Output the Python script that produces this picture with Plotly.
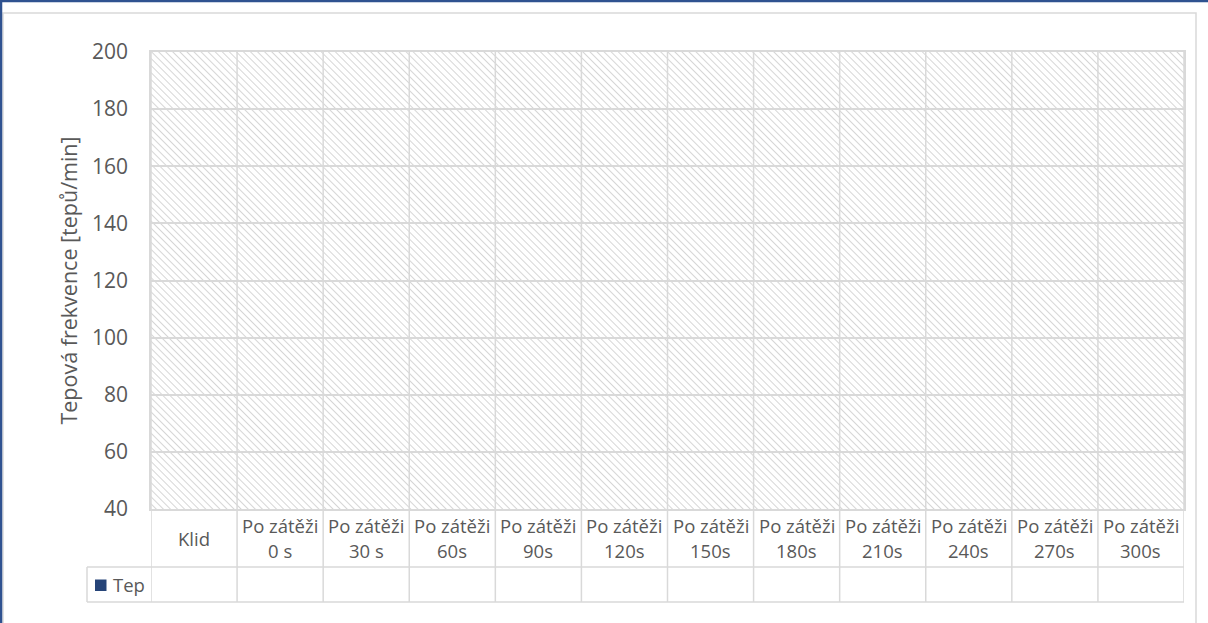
import base64
import plotly.graph_objects as go

# ---- data -------------------------------------------------------------
categories = [
    "Klid",
    "Po zátěži<br>0 s",
    "Po zátěži<br>30 s",
    "Po zátěži<br>60s",
    "Po zátěži<br>90s",
    "Po zátěži<br>120s",
    "Po zátěži<br>150s",
    "Po zátěži<br>180s",
    "Po zátěži<br>210s",
    "Po zátěži<br>240s",
    "Po zátěži<br>270s",
    "Po zátěži<br>300s",
]
series_name = "Tep"
tep_values = [None] * len(categories)  # no measurements entered yet
y_ticks = [40, 60, 80, 100, 120, 140, 160, 180, 200]
y_title = "Tepová frekvence [tepů/min]"

# ---- styling ----------------------------------------------------------
W, H = 1208, 623
M_L, M_R, M_T, M_B = 151, 24, 52, 114
PW, PH = W - M_L - M_R, H - M_T - M_B
GRID = "#d9d9d9"
TEXT = "#595959"
SERIES_COLOR = "#264478"
FRAME_BLUE = "#2f5290"
FONT = "Open Sans"


def px_x(p):
    return (p - M_L) / PW


def px_y(p):
    return (H - M_B - p) / PH


# hatched plot-area fill (downward diagonal)
svg = (
    f'<svg xmlns="http://www.w3.org/2000/svg" width="{PW}" height="{PH}">'
    '<defs><pattern id="h" width="5" height="5" patternUnits="userSpaceOnUse" '
    'patternTransform="rotate(-45)">'
    '<line x1="0" y1="0" x2="0" y2="5" stroke="#c4c4c4" stroke-width="1.4"/>'
    '</pattern></defs>'
    f'<rect width="{PW}" height="{PH}" fill="#ffffff"/>'
    f'<rect width="{PW}" height="{PH}" fill="url(#h)"/></svg>'
)
hatch_src = "data:image/svg+xml;base64," + base64.b64encode(svg.encode()).decode()

fig = go.Figure()
fig.add_trace(
    go.Bar(
        x=list(range(len(categories))),
        y=tep_values,
        name=series_name,
        marker_color=SERIES_COLOR,
        showlegend=False,
    )
)

n = len(categories)
row1_bottom = 567
row2_bottom = 602
legend_left = 87

shapes = []
# outer chart frame
shapes.append(dict(type="rect", xref="paper", yref="paper",
                   x0=px_x(3), x1=px_x(1196), y0=px_y(640), y1=px_y(13),
                   line=dict(color=GRID, width=1.5), layer="below"))
# blue selection border (top and left)
shapes.append(dict(type="line", xref="paper", yref="paper",
                   x0=px_x(0), x1=px_x(W), y0=px_y(1), y1=px_y(1),
                   line=dict(color=FRAME_BLUE, width=2.5)))
shapes.append(dict(type="line", xref="paper", yref="paper",
                   x0=px_x(1), x1=px_x(1), y0=px_y(0), y1=px_y(H),
                   line=dict(color=FRAME_BLUE, width=2.5)))
# category separators running through plot and data table
for i in range(n + 1):
    shapes.append(dict(type="line", xref="x", yref="paper",
                       x0=i - 0.5, x1=i - 0.5, y0=px_y(row2_bottom), y1=1,
                       line=dict(color=GRID, width=1.5)))
# data table horizontal rules
for yy in (row1_bottom, row2_bottom):
    shapes.append(dict(type="line", xref="paper", yref="paper",
                       x0=px_x(legend_left), x1=1, y0=px_y(yy), y1=px_y(yy),
                       line=dict(color=GRID, width=1.5)))
# legend-key cell left border
shapes.append(dict(type="line", xref="paper", yref="paper",
                   x0=px_x(legend_left), x1=px_x(legend_left),
                   y0=px_y(row1_bottom), y1=px_y(row2_bottom),
                   line=dict(color=GRID, width=1.5)))
# legend key square
shapes.append(dict(type="rect", xref="paper", yref="paper",
                   x0=px_x(95), x1=px_x(106.5), y0=px_y(591), y1=px_y(579.5),
                   fillcolor=SERIES_COLOR, line=dict(width=0)))

annotations = []
row1_mid = (H - M_B + row1_bottom) / 2
line_gap = 25
for i, cat in enumerate(categories):
    lines = cat.split("<br>")
    start = row1_mid - (len(lines) - 1) * line_gap / 2
    for k, ln in enumerate(lines):
        annotations.append(dict(
            x=i, xref="x", y=px_y(start + k * line_gap), yref="paper",
            text=ln, showarrow=False, xanchor="center", yanchor="middle",
            font=dict(family=FONT, size=18.5, color=TEXT)))
# series label in the legend cell
annotations.append(dict(
    x=px_x(111), xref="paper", y=px_y((row1_bottom + row2_bottom) / 2), yref="paper",
    text=series_name, showarrow=False, xanchor="left", yanchor="middle",
    font=dict(family=FONT, size=18.5, color=TEXT)))

fig.update_layout(
    width=W, height=H,
    margin=dict(l=M_L, r=M_R, t=M_T, b=M_B),
    paper_bgcolor="white",
    plot_bgcolor="rgba(0,0,0,0)",
    shapes=shapes,
    annotations=annotations,
    images=[dict(source=hatch_src, xref="paper", yref="paper", x=0, y=1,
                 sizex=1, sizey=1, xanchor="left", yanchor="top",
                 sizing="stretch", layer="below")],
    showlegend=False,
)
fig.update_xaxes(range=[-0.5, n - 0.5], showticklabels=False, showgrid=False,
                 zeroline=False, showline=True, mirror=True,
                 linecolor=GRID, linewidth=1.5, fixedrange=True)
fig.update_yaxes(range=[y_ticks[0], y_ticks[-1]], tickvals=y_ticks,
                 showgrid=True, gridcolor=GRID, gridwidth=1.5, zeroline=False,
                 showline=True, mirror=True, linecolor=GRID, linewidth=1.5,
                 ticks="", ticklabelstandoff=17,
                 tickfont=dict(family=FONT, size=21, color=TEXT),
                 title=dict(text=y_title, standoff=8,
                            font=dict(family=FONT, size=21.5, color=TEXT)),
                 automargin=False, fixedrange=True)

fig.write_html("out.html")
